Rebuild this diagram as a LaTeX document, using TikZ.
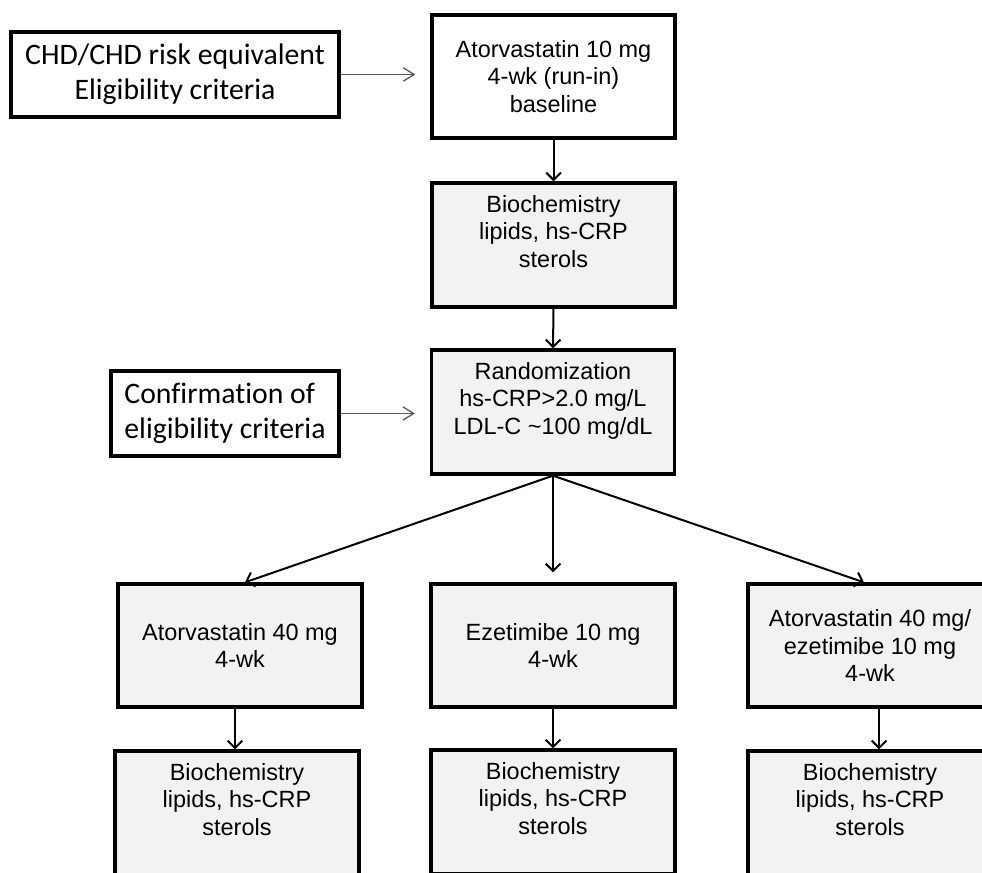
\documentclass[tikz,border=0pt]{standalone}
\usepackage{fontspec}
\setmainfont{Liberation Sans}
\newfontfamily\calibfont[Ligatures=NoCommon]{Carlito}
\usetikzlibrary{arrows.meta}
\newdimen\pxu \pxu=0.75pt
\definecolor{boxgray}{HTML}{F2F2F2}
\definecolor{arrgray}{HTML}{595959}
\begin{document}
\begin{tikzpicture}[x=0.75pt,y=-0.75pt,
  box/.style={draw=black, line width=2.5pt, fill=white, minimum width=243\pxu, minimum height=123\pxu,
    align=center, inner sep=0pt, font=\fontsize{17.6}{20.6}\selectfont},
  gbox/.style={box, fill=boxgray},
  cbox/.style={draw=black, line width=2.5pt, fill=white, minimum height=85\pxu, inner sep=0pt,
    font=\calibfont\fontsize{22.3}{26.3}\selectfont},
  arr/.style={line width=1.5pt, -{Straight Barb[length=5.5pt,width=11pt]}},
  garr/.style={line width=1pt, draw=arrgray, -{Straight Barb[length=8pt,width=10pt]}, shorten >=15\pxu}
]
\useasboundingbox (0,0) rectangle (982,873);
\fill[white] (0,0) rectangle (982,873);
\clip (0,0) rectangle (982,873);

\node[cbox, minimum width=328\pxu, align=center] (crit) at (175,74.5) {CHD/CHD risk equivalent\\Eligibility criteria};
\node[box] (atv) at (553.5,76.5) {Atorvastatin 10 mg\\4-wk (run-in)\\baseline};
\node[gbox, minimum height=124\pxu] (bio) at (553.5,245) {Biochemistry\\lipids, hs-CRP\\sterols\\\mbox{}};
\node[gbox, minimum height=124\pxu] (rand) at (553,412) {Randomization\\hs-CRP>2.0 mg/L\\LDL-C \textasciitilde100 mg/dL\\\mbox{}};
\node[cbox, minimum width=228\pxu, align=left] (conf) at (225,413.5) {Confirmation of\\eligibility criteria};

\node[gbox, minimum width=244\pxu] (t1) at (240,645.5) {Atorvastatin 40 mg\\4-wk};
\node[gbox, minimum width=244\pxu] (t2) at (553,645.5) {Ezetimibe 10 mg\\4-wk};
\node[gbox, minimum width=244\pxu] (t3) at (870,645.5) {Atorvastatin 40 mg/\\ezetimibe 10 mg\\4-wk};

\node[gbox, minimum width=244\pxu, minimum height=124\pxu] (b1) at (237,813) {Biochemistry\\lipids, hs-CRP\\sterols\\\mbox{}};
\node[gbox, minimum width=244\pxu, minimum height=124\pxu] (b2) at (553,812) {Biochemistry\\lipids, hs-CRP\\sterols\\\mbox{}};
\node[gbox, minimum width=244\pxu, minimum height=124\pxu] (b3) at (870,813) {Biochemistry\\lipids, hs-CRP\\sterols\\\mbox{}};

\draw[garr] (crit.east) -- (crit.east -| atv.west);
\draw[garr] (conf.east) -- (conf.east -| rand.west);
\draw[arr] (atv.south) -- (bio.north);
\draw[arr] (bio.south) -- (rand.north);
\draw[arr] (rand.south) -- ([xshift=5\pxu]t1.north);
\draw[arr, shorten >=10\pxu] (rand.south) -- (t2.north);
\draw[arr] (rand.south) -- ([xshift=-6\pxu]t3.north);
\draw[arr] ([xshift=-5\pxu]t1.south) -- ([xshift=-5\pxu]t1.south |- b1.north);
\draw[arr] (t2.south) -- (b2.north);
\draw[arr] ([xshift=9\pxu]t3.south) -- ([xshift=9\pxu]t3.south |- b3.north);
\end{tikzpicture}
\end{document}
